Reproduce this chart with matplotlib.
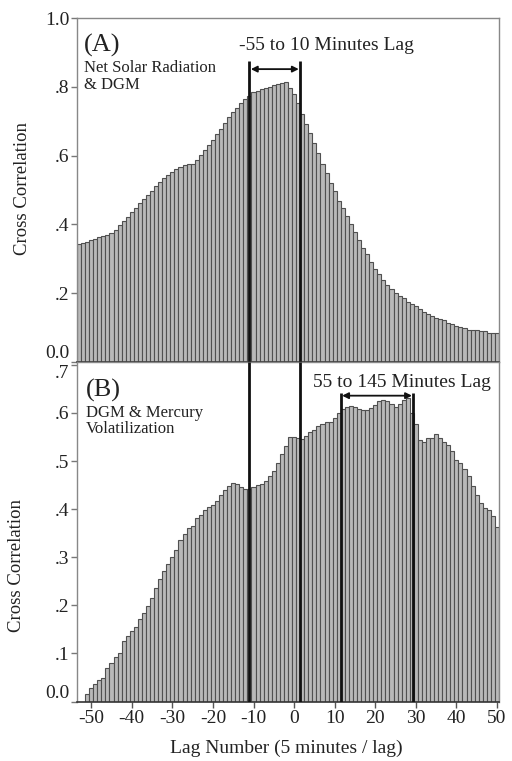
import matplotlib
matplotlib.use("Agg")
import matplotlib.pyplot as plt
import numpy as np

plt.rcParams['font.family'] = ['Liberation Serif', 'DejaVu Serif']
plt.rcParams['axes.unicode_minus'] = False

# (A) Net solar radiation & DGM, lags -53 .. 50
lags_a = np.arange(-53, 51)
corr_a = [
    0.343, 0.347, 0.350, 0.354, 0.358, 0.362, 0.366, 0.368, 0.376, 0.384,
    0.397, 0.411, 0.422, 0.436, 0.449, 0.461, 0.474, 0.484, 0.498, 0.511,
    0.523, 0.535, 0.544, 0.552, 0.560, 0.566, 0.572, 0.575, 0.577, 0.587,
    0.601, 0.616, 0.632, 0.647, 0.663, 0.678, 0.696, 0.713, 0.727, 0.740,
    0.754, 0.766, 0.774, 0.786, 0.789, 0.793, 0.797, 0.800, 0.805, 0.808,
    0.812, 0.815, 0.796, 0.779, 0.752, 0.720, 0.691, 0.665, 0.636, 0.609,
    0.576, 0.549, 0.520, 0.498, 0.469, 0.447, 0.424, 0.401, 0.379, 0.355,
    0.330, 0.314, 0.289, 0.269, 0.256, 0.238, 0.224, 0.211, 0.200, 0.190,
    0.185, 0.175, 0.169, 0.161, 0.153, 0.146, 0.140, 0.132, 0.128, 0.124,
    0.120, 0.114, 0.110, 0.105, 0.101, 0.097, 0.093, 0.091, 0.091, 0.090,
    0.088, 0.085, 0.085, 0.083,
]

# (B) DGM & mercury volatilization, lags -51 .. 50
lags_b = np.arange(-51, 51)
corr_b = [
    0.016, 0.029, 0.037, 0.045, 0.050, 0.069, 0.080, 0.092, 0.102, 0.127,
    0.136, 0.147, 0.156, 0.172, 0.184, 0.199, 0.215, 0.237, 0.254, 0.272,
    0.286, 0.301, 0.315, 0.335, 0.348, 0.360, 0.366, 0.381, 0.388, 0.398,
    0.404, 0.409, 0.418, 0.429, 0.439, 0.448, 0.455, 0.452, 0.446, 0.442,
    0.443, 0.447, 0.450, 0.452, 0.459, 0.469, 0.480, 0.497, 0.514, 0.531,
    0.551, 0.551, 0.549, 0.545, 0.552, 0.560, 0.565, 0.572, 0.578, 0.582,
    0.582, 0.589, 0.599, 0.608, 0.613, 0.615, 0.612, 0.608, 0.606, 0.606,
    0.610, 0.617, 0.624, 0.626, 0.624, 0.619, 0.613, 0.619, 0.628, 0.631,
    0.600, 0.578, 0.544, 0.540, 0.547, 0.547, 0.556, 0.549, 0.540, 0.534,
    0.520, 0.502, 0.495, 0.483, 0.468, 0.448, 0.430, 0.412, 0.402, 0.398,
    0.386, 0.364,
]

lag_window_a = (-11, 1.5)      # -55 to 10 minutes
lag_window_b = (11.5, 29.4)    # 55 to 145 minutes

yticks_a = [0.0, 0.2, 0.4, 0.6, 0.8, 1.0]
ylabels_a = ["0.0", ".2", ".4", ".6", ".8", "1.0"]
yticks_b = [0.0, 0.1, 0.2, 0.3, 0.4, 0.5, 0.6, 0.7]
ylabels_b = ["0.0", ".1", ".2", ".3", ".4", ".5", ".6", ".7"]
xticks = np.arange(-50, 51, 10)

W, H = 512, 761
fig = plt.figure(figsize=(W / 100, H / 100), dpi=100)
axA = fig.add_axes([77 / W, 1 - 361.7 / H, 422 / W, 343.4 / H])
axB = fig.add_axes([77 / W, 1 - 701.6 / H, 422 / W, (701.6 - 362) / H])

bar_kw = dict(width=1.0, color='#b9b9b9', edgecolor='#505050', linewidth=0.8, zorder=1)
axA.bar(lags_a, corr_a, **bar_kw)
axB.bar(lags_b, corr_b, **bar_kw)

for ax in (axA, axB):
    ax.set_xlim(-53.5, 50.5)
    for s in ('left', 'top', 'right'):
        ax.spines[s].set_color('#888888')
        ax.spines[s].set_linewidth(1.0)
    ax.spines['bottom'].set_color('#333333')
    ax.spines['bottom'].set_linewidth(1.2)
    ax.tick_params(axis='y', direction='out', length=4, width=1, color='#777777',
                   labelsize=14, pad=1.5, labelcolor='#222222')

axA.set_ylim(0, 1.0)
axB.set_ylim(0, 0.706)
axA.set_yticks(yticks_a, ylabels_a)
axB.set_yticks(yticks_b, ylabels_b)
axA.get_yticklabels()[0].set_va('bottom')
axB.get_yticklabels()[0].set_va('bottom')
axB.get_yticklabels()[-1].set_va('top')

axA.set_xticks([])
axB.set_xticks(xticks)
axB.tick_params(axis='x', direction='out', length=4, width=1, color='#555555',
                labelsize=14, pad=2, labelcolor='#222222')

# lag window markers
line_kw = dict(color='#111111', linewidth=2.0, zorder=3)
axA.vlines(lag_window_a, 0, 0.876, **line_kw)
axB.vlines(lag_window_a, 0, 0.706, **line_kw)
axB.vlines(lag_window_b, 0, 0.642, **line_kw)

arrow_kw = dict(arrowstyle='<|-|>', color='#111111', lw=1.3, mutation_scale=9,
                shrinkA=1, shrinkB=1)
axA.annotate('', xy=(lag_window_a[1], 0.852), xytext=(lag_window_a[0], 0.852),
             arrowprops=arrow_kw)
axB.annotate('', xy=(lag_window_b[1], 0.636), xytext=(lag_window_b[0], 0.636),
             arrowprops=arrow_kw)

txt = '#222222'
axA.text(0.59, 0.922, "-55 to 10 Minutes Lag", transform=axA.transAxes,
         ha='center', va='center', fontsize=14, color=txt)
axB.text(0.771, 0.939, "55 to 145 Minutes Lag", transform=axB.transAxes,
         ha='center', va='center', fontsize=14, color=txt)

axA.text(0.017, 0.922, "(A)", transform=axA.transAxes, ha='left', va='center',
         fontsize=19, color=txt)
axA.text(0.017, 0.8305, "Net Solar Radiation\n& DGM", transform=axA.transAxes,
         ha='left', va='center', fontsize=12, color=txt, linespacing=1.1)
axB.text(0.021, 0.9176, "(B)", transform=axB.transAxes, ha='left', va='center',
         fontsize=19, color=txt)
axB.text(0.021, 0.826, "DGM & Mercury\nVolatilization", transform=axB.transAxes,
         ha='left', va='center', fontsize=12, color=txt, linespacing=1.05)

fig.text(22.5 / W, 1 - 188.5 / H, "Cross Correlation", rotation=90,
         ha='center', va='center', fontsize=13.5, color=txt)
fig.text(16.5 / W, 1 - 565 / H, "Cross Correlation", rotation=90,
         ha='center', va='center', fontsize=13.5, color=txt)
fig.text(286 / W, 1 - 748 / H, "Lag Number (5 minutes / lag)",
         ha='center', va='center', fontsize=14, color=txt)

fig.savefig("out.png", dpi=100)
